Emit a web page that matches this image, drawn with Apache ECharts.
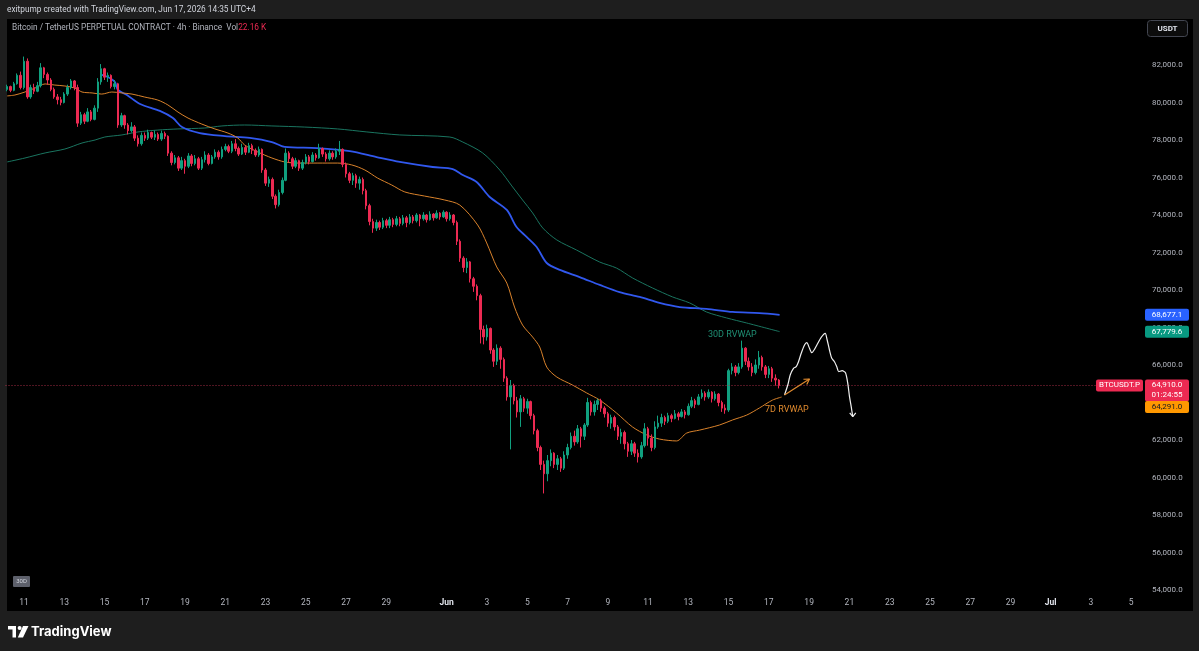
<!DOCTYPE html>
<html><head><meta charset="utf-8">
<script src="https://cdn.jsdelivr.net/npm/echarts@6/dist/echarts.min.js"></script>
<style>html,body{margin:0;padding:0;background:#1e1e1e}#c{width:1199px;height:651px}</style>
</head><body><div id="c"></div>
<script>
// ---- time axis: 4h slots from 2026-05-10 04:00 (UTC+4 chart time) ----
const slotStart = Date.UTC(2026, 4, 10, 4);
const slotCount = 339;
const tickDates = ['2026-05-11','2026-05-13','2026-05-15','2026-05-17','2026-05-19','2026-05-21','2026-05-23','2026-05-25','2026-05-27','2026-05-29',
  '2026-06-01','2026-06-03','2026-06-05','2026-06-07','2026-06-09','2026-06-11','2026-06-13','2026-06-15','2026-06-17','2026-06-19','2026-06-21','2026-06-23','2026-06-25','2026-06-27','2026-06-29',
  '2026-07-01','2026-07-03','2026-07-05'];
const tickTexts = ['11','13','15','17','19','21','23','25','27','29',
  'Jun','3','5','7','9','11','13','15','17','19','21','23','25','27','29',
  'Jul','3','5'];

// ---- candles (BTCUSDT.P 4h) ----
const firstOpen = 80700;
const closes = [80850,80650,81000,81450,80800,82200,80300,80800,80600,80900,81850,81500,81200,80700,80300,80150,80000,80450,80800,81150,
80800,78900,79350,79000,79500,79100,79700,81100,81800,81350,81450,80850,81000,78800,79300,78800,78500,78700,78100,77800,
78250,78100,78400,78150,78300,78050,78350,78200,77300,76800,77050,76500,76900,76600,77150,76750,77000,76500,76950,77200,
76750,77100,77350,77100,77500,77650,77400,77800,77550,77250,77600,77350,77700,77450,77200,77500,76400,75700,75900,75000,
74550,75200,75850,77300,77000,76600,76900,76500,76800,77100,76850,77200,77050,77550,77250,77000,77300,77100,77400,77500,
76700,76200,75850,76100,75700,75900,75300,74500,73650,73300,73600,73350,73700,73450,73750,73500,73800,73550,73850,73600,
73900,73700,74000,73800,74000,73750,74050,73850,74100,73900,74150,73800,74000,73600,72600,71700,71200,71500,70600,70200,
69700,67900,67500,67950,66800,66200,66900,66300,65300,64300,64900,64100,63500,64200,63700,64050,63300,62500,61600,60700,
60200,60900,61300,60700,61000,60500,61200,61600,62200,61900,62600,62200,62800,64000,63500,63900,64100,63700,63400,62900,
63200,62700,62200,62400,61800,61400,61800,61300,61100,61700,62600,62100,61600,62700,62900,63200,63000,63300,63150,63400,
63250,63500,63350,63800,64100,63900,64300,64500,64300,64550,64200,64450,64000,63700,63600,65700,65900,65600,65900,66900,
66200,65900,65600,66000,66400,65900,65500,65800,65300,65200,64910];
const lows = [80600,80550,80600,80950,80700,80700,80200,80200,80450,80550,80800,81300,80950,80600,80200,79900,79850,79950,80350,80700,
80650,78700,78800,78850,78950,79000,79050,79500,80950,81200,81100,80750,80700,78650,78700,78600,78300,78400,77950,77650,
77700,77950,78000,78050,78000,77950,77950,78050,77150,76650,76700,76350,76400,76200,76500,76600,76650,76400,76400,76800,
76650,76700,77000,76950,77000,77400,77300,77300,77400,77150,77200,77200,77300,77250,77100,77100,76250,75550,75500,74850,
74350,74450,75100,75800,76800,76450,76500,76350,76400,76700,76700,76800,76900,77000,77100,76850,76900,76950,77000,77200,
76550,76000,75700,75600,75450,75350,75100,74300,73450,73050,73150,73200,73250,73300,73300,73350,73400,73400,73450,73350,
73500,73550,73600,73400,73700,73600,73700,73700,73800,73750,73850,73650,73700,73450,72400,71500,70950,70900,70400,69900,
69450,67150,67100,67300,66600,65900,66000,65800,65100,64100,61500,63900,63200,62700,63500,63400,63100,62300,61400,60400,
59150,59800,60600,60500,60400,60300,60400,61000,61500,61700,61800,61600,62000,62700,63300,63300,63600,63500,63200,62700,
62600,62500,62000,61800,61500,61100,61200,61100,60800,61000,61600,61700,61400,61500,62600,62700,62800,62900,62950,63100,
63050,63200,63150,63300,63700,63700,63850,64200,64100,64200,64000,64100,63800,63500,63400,63500,65500,65400,65500,65800,
66000,65700,65400,65500,65800,65700,65300,65300,65100,64900,64750];
const highs = [80950,80900,81100,81550,81650,82450,82350,80950,81000,81100,82100,81900,81600,81300,80800,80450,80300,80550,80950,81250,
81200,80950,79500,79450,79700,79600,79850,81300,82050,81850,81600,81500,81200,81050,79450,79350,78900,78950,78800,78250,
78400,78400,78550,78450,78500,78400,78500,78450,78250,77400,77200,77150,77100,77000,77300,77250,77200,77100,77100,77400,
77300,77200,77500,77450,77650,77800,77750,77950,78050,77650,77800,77700,77850,77800,77550,77650,77550,76500,76050,76000,
75100,75350,76000,77550,77400,77100,77050,76950,76950,77250,77200,77350,77300,77800,77600,77350,77450,77400,77550,77950,
77550,76800,76300,76250,76200,76050,76000,75400,74600,73800,73750,73700,73850,73800,73900,73850,73950,73900,74000,73950,
74050,74000,74100,74050,74150,74050,74200,74100,74250,74150,74250,74200,74150,74050,73700,72700,71800,71700,71550,70700,
70300,69800,68100,68150,68000,66900,67100,67000,66400,65400,65200,65000,64300,64400,64300,64200,64100,63400,62600,61700,
60900,61200,61500,61350,61200,61100,61400,61800,62400,62500,62800,62700,62900,64250,64100,64100,64200,64200,63800,63500,
63350,63300,62800,62600,62500,61900,62000,61900,61500,61900,62900,62700,62300,63000,63300,63400,63300,63450,63400,63600,
63500,63650,63600,63950,64300,64200,64450,64700,64600,64700,64600,64600,64500,64100,63900,65800,66100,66000,66100,67300,
66950,66400,66100,66300,66750,66500,66000,65950,65900,65500,65250];

// ---- rolling VWAP lines: [slot index, price] ----
const rvwap7d = [[0,80350],[2.3,80400],[5.3,80560],[8.3,80770],[11.3,80990],[14.2,80930],[17.2,80880],[20.2,80770],[22.3,80560],[25.3,80510],[28.2,80450],[31.2,80560],[34.2,80510],[37.2,80450],[41,80290],[44.9,80130],[47.9,79870],[50.9,79490],[53.9,79170],[58,78850],[61.9,78590],[65.8,78370],[68.7,78110],[70.8,77730],[74.7,77360],[78.9,77040],[82.7,76830],[86.6,76770],[92.6,76770],[98.5,76770],[102.7,76670],[106.6,76400],[110.4,75970],[114.6,75600],[118.5,75230],[124.4,75010],[130.4,74800],[134.9,74530],[140.2,73470],[142.9,72510],[145.9,71230],[148.9,70370],[151.2,69090],[153.6,68130],[156.6,67490],[158.7,66960],[160.8,65890],[163.8,65360],[168.5,64930],[172.7,64510],[176.6,64130],[181.6,63440],[186.4,62690],[190.6,62270],[194.4,62050],[199.5,61950],[202.5,62370],[206.4,62530],[212.3,62800],[216.2,63070],[220.4,63330],[224.2,63710],[228.1,64130],[230.8,64291]];
const rvwap30d = [[0,76830],[5.3,77040],[11.3,77310],[17.2,77520],[22.3,77840],[26.2,78000],[29.1,78160],[34.2,78270],[39,78430],[44.9,78530],[50.9,78590],[58.9,78640],[64,78750],[70.8,78800],[78.9,78750],[88.7,78690],[98.5,78590],[107.2,78430],[117,78270],[131.9,78160],[135.8,77890],[141.7,77310],[146.8,76400],[150.4,75550],[153.6,74800],[156.6,74110],[159.6,73310],[163.8,72670],[169.7,72130],[176.6,71490],[181.6,71170],[186.4,70640],[192.3,70110],[198.3,69630],[203.4,69310],[208.4,68830],[214.4,68510],[220.4,68240],[230.2,67780]];
const anchoredVwap = [[28.2,81470],[30,81360],[32.1,81090],[33,80670],[35.7,80400],[39.6,79920],[45.5,79550],[49.4,79170],[52.1,78690],[57.4,78370],[64.9,78210],[72.3,78110],[78.9,77890],[82.7,77630],[92.3,77570],[102.1,77410],[110.1,77090],[117,76830],[126.8,76560],[132.8,76450],[135.8,76130],[139.9,75760],[143.8,74960],[148.9,74270],[151.8,73360],[154.8,72830],[157.8,72290],[160.8,71440],[164.7,71070],[170.6,70690],[176.6,70270],[182.5,69890],[188.5,69630],[194.4,69310],[200.4,69090],[208.4,68990],[216.2,68830],[224.2,68770],[230.2,68677]];

// ---- hand-drawn projection ----
const projPath = [[231.66,64400],[232.64,64933],[233.36,65467],[234.34,65824],[235.15,65909],[235.83,66176],[236.64,66624],[237.62,67067],[238.3,67189],[239.11,66891],[239.79,66656],[240.6,66837],[241.58,67157],[242.59,67477],[243.78,67691],[244.38,67333],[245.06,66800],[245.75,66357],[246.55,66176],[247.24,65909],[247.83,65643],[248.85,65696],[249.83,65589],[250.52,65024],[251.03,64309],[251.54,63776],[252.01,63243]];
const projHead = [[251.1,63450],[252.01,63243],[252.9,63450]];
const orangeArrow = [[231.66,64400],[239.1,65250]];
const orangeHead = [[237.3,65240],[239.1,65250],[238.3,64960]];

const tagBlue = 68677.1, tagGreen = 67779.6, tagLast = 64910.0, tagOrange = 64291.0;

// ---- build ----
const pad = n => (n < 10 ? '0' : '') + n;
const categories = [];
for (let k = 0; k < slotCount; k++) {
  const d = new Date(slotStart + k * 4 * 3600 * 1000);
  categories.push(d.getUTCFullYear() + '-' + pad(d.getUTCMonth() + 1) + '-' + pad(d.getUTCDate()) + ' ' + pad(d.getUTCHours()) + ':00');
}
const tickMap = {};
tickDates.forEach((t, k) => { tickMap[t + ' 00:00'] = tickTexts[k]; });

const candleData = closes.map((c, k) => [k === 0 ? firstOpen : closes[k - 1], c, lows[k], highs[k]]);

const UP = '#10a07f', DOWN = '#ec2a52';
const FONT = 'Roboto, "Noto Sans", sans-serif';

const chart = echarts.init(document.getElementById('c'));
chart.setOption({
  animation: false,
  backgroundColor: '#1e1e1e',
  grid: { left: 5.5, right: 56, top: 27.5, height: 600, containLabel: false },
  xAxis: [{
    type: 'category', data: categories, boundaryGap: true, offset: -32.5,
    axisLine: { show: false }, axisTick: { show: false }, splitLine: { show: false },
    axisLabel: {
      color: '#b2b5be', fontSize: 8.5, fontFamily: FONT, margin: 3, hideOverlap: false,
      interval: (idx, val) => tickMap[val] !== undefined,
      formatter: val => { const t = tickMap[val]; if (t === undefined) return ''; return (t === 'Jun' || t === 'Jul') ? '{m|' + t + '}' : t; },
      rich: { m: { color: '#e0e3eb', fontSize: 8.5, fontWeight: 'bold', fontFamily: FONT } }
    }
  }, {
    type: 'value', min: -0.5, max: slotCount - 0.5, show: false
  }],
  yAxis: {
    type: 'value', position: 'right', min: 52000, max: 84000, interval: 2000, scale: true,
    axisLine: { show: false }, axisTick: { show: false }, splitLine: { show: false },
    axisLabel: {
      color: '#b2b5be', fontSize: 8, fontFamily: FONT, margin: 9,
      formatter: v => (v > 82000 || v < 54000) ? '' : v.toLocaleString('en-US', { minimumFractionDigits: 1, maximumFractionDigits: 1 })
    }
  },
  series: [
    {
      type: 'line', xAxisIndex: 1, data: rvwap30d, showSymbol: false, smooth: 0.3, z: 3,
      lineStyle: { color: '#1a7560', width: 1 }
    },
    {
      type: 'line', xAxisIndex: 1, data: anchoredVwap, showSymbol: false, smooth: 0.3, z: 3,
      lineStyle: { color: '#3158ee', width: 1.8 }
    },
    {
      type: 'line', xAxisIndex: 1, data: rvwap7d, showSymbol: false, smooth: 0.3, z: 3,
      lineStyle: { color: '#d9822b', width: 1 }
    },
    {
      type: 'candlestick', xAxisIndex: 0, data: candleData, barWidth: 2, z: 4,
      itemStyle: { color: UP, color0: DOWN, borderColor: UP, borderColor0: DOWN, borderWidth: 1 },
      markLine: {
        silent: true, symbol: ['none', 'none'], animation: false,
        label: { show: false },
        lineStyle: { color: '#b3304a', type: [1, 2], width: 1, opacity: 0.9 },
        data: [{ yAxis: tagLast }]
      }
    },
    {
      type: 'line', xAxisIndex: 1, data: projPath, showSymbol: false, smooth: 0.25, z: 5,
      lineStyle: { color: '#f0f0f0', width: 1.2 }
    },
    {
      type: 'line', xAxisIndex: 1, data: projHead, showSymbol: false, z: 5,
      lineStyle: { color: '#f0f0f0', width: 1.2 }
    },
    {
      type: 'line', xAxisIndex: 1, data: orangeArrow, showSymbol: false, z: 5,
      lineStyle: { color: '#e08a2e', width: 1.2 }
    },
    {
      type: 'line', xAxisIndex: 1, data: orangeHead, showSymbol: false, z: 5,
      lineStyle: { color: '#e08a2e', width: 1.2 }
    }
  ]
});

const yPix = v => chart.convertToPixel({ yAxisIndex: 0 }, v);
const tag = (yc, h, bg, lines, fg) => {
  const els = [{ type: 'rect', z: 20, shape: { x: 1145, y: yc - 6, width: 44, height: h, r: 2 }, style: { fill: bg } }];
  lines.forEach((t, k) => els.push({ type: 'text', z: 21, style: { text: t, x: 1167, y: yc + k * 10, fill: fg || '#ffffff', fontSize: 8, fontFamily: FONT, align: 'center', verticalAlign: 'middle' } }));
  return els;
};
const yLast = yPix(tagLast);
let g = [
  { type: 'rect', z: -1, shape: { x: 7, y: 19, width: 1186, height: 592 }, style: { fill: '#000000' } },
  { type: 'text', style: { text: 'exitpump created with TradingView.com, Jun 17, 2026 14:35 UTC+4', x: 7, y: 10, fill: '#d1d4dc', fontSize: 8.3, fontFamily: FONT, verticalAlign: 'middle' } },
  { type: 'text', z: 20, style: { text: '{a|Bitcoin / TetherUS PERPETUAL CONTRACT · 4h · Binance  Vol}{b|22.16 K}', x: 12, y: 28, verticalAlign: 'middle',
      rich: { a: { fill: '#b2b5be', fontSize: 8.3, fontFamily: FONT }, b: { fill: DOWN, fontSize: 8.3, fontFamily: FONT } } } },
  { type: 'rect', z: 20, shape: { x: 1147.5, y: 20.5, width: 40, height: 16, r: 3 }, style: { fill: '#0c0c0c', stroke: '#434651', lineWidth: 1 } },
  { type: 'text', z: 21, style: { text: 'USDT', x: 1167.5, y: 28.5, fill: '#e0e3eb', fontSize: 8, fontWeight: 'bold', fontFamily: FONT, align: 'center', verticalAlign: 'middle' } },
  { type: 'rect', z: 20, shape: { x: 13, y: 576, width: 17, height: 11, r: 1 }, style: { fill: '#5d606b' } },
  { type: 'text', z: 21, style: { text: '30D', x: 21.5, y: 581.5, fill: '#d1d4dc', fontSize: 6, fontFamily: FONT, align: 'center', verticalAlign: 'middle' } },
  { type: 'text', z: 20, style: { text: '30D RVWAP', x: 708, y: 335, fill: '#1f8f74', fontSize: 9, fontFamily: FONT, verticalAlign: 'middle' } },
  { type: 'text', z: 20, style: { text: '7D RVWAP', x: 765, y: 410, fill: '#e08a2e', fontSize: 9, fontFamily: FONT, verticalAlign: 'middle' } },
  // TradingView logo
  { type: 'rect', shape: { x: 8, y: 626, width: 8, height: 3.5 }, style: { fill: '#ffffff' } },
  { type: 'rect', shape: { x: 12.5, y: 626, width: 3.5, height: 11.5 }, style: { fill: '#ffffff' } },
  { type: 'circle', shape: { cx: 19.6, cy: 628, r: 2 }, style: { fill: '#ffffff' } },
  { type: 'polygon', shape: { points: [[23, 626], [28.5, 626], [23, 637.5], [17.8, 637.5]] }, style: { fill: '#ffffff' } },
  { type: 'text', style: { text: 'TradingView', x: 31, y: 632, fill: '#ffffff', fontSize: 13, fontWeight: 'bold', fontFamily: 'Inter, Roboto, sans-serif', verticalAlign: 'middle' } },
  // last price label on the left of the scale
  { type: 'rect', z: 20, shape: { x: 1096, y: yLast - 6, width: 47, height: 12, r: 2 }, style: { fill: DOWN } },
  { type: 'text', z: 21, style: { text: 'BTCUSDT.P', x: 1119.5, y: yLast, fill: '#ffffff', fontSize: 8, fontFamily: FONT, align: 'center', verticalAlign: 'middle' } }
];
g = g.concat(tag(yPix(tagBlue), 12, '#2962ff', [tagBlue.toLocaleString('en-US', { minimumFractionDigits: 1 })]));
g = g.concat(tag(yPix(tagGreen), 12, '#089981', [tagGreen.toLocaleString('en-US', { minimumFractionDigits: 1 })]));
g = g.concat(tag(yLast, 22, DOWN, [tagLast.toLocaleString('en-US', { minimumFractionDigits: 1 }), '01:24:55']));
g = g.concat(tag(yLast + 21.5, 12, '#ff9800', [tagOrange.toLocaleString('en-US', { minimumFractionDigits: 1 })], '#131722'));
chart.setOption({ graphic: g });
</script></body></html>
